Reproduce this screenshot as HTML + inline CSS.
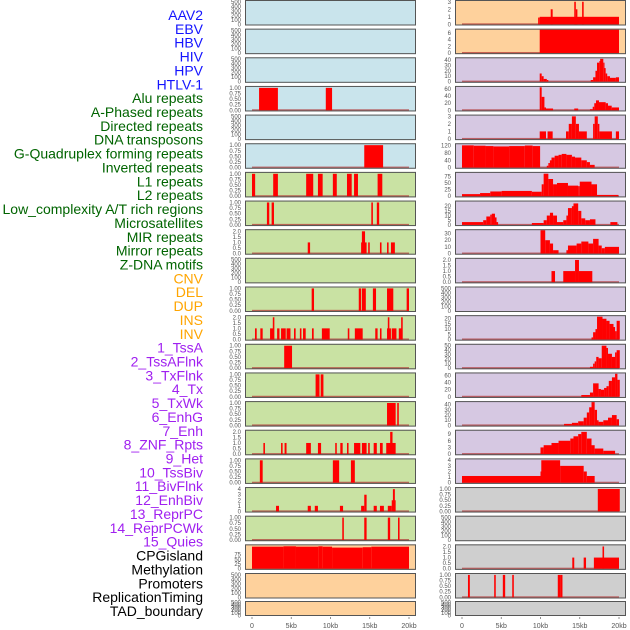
<!DOCTYPE html>
<html><head><meta charset="utf-8">
<style>
html,body{margin:0;padding:0;background:#fff;}
svg{display:block;font-family:"Liberation Sans",sans-serif;}
</style></head>
<body>
<svg id="chart" width="630" height="630" viewBox="0 0 630 630" xmlns="http://www.w3.org/2000/svg"></svg>
<script>
const labels = ["AAV2","EBV","HBV","HIV","HPV","HTLV-1","Alu repeats","A-Phased repeats","Directed repeats","DNA transposons","G-Quadruplex forming repeats","Inverted repeats","L1 repeats","L2 repeats","Low_complexity A/T rich regions","Microsatellites","MIR repeats","Mirror repeats","Z-DNA motifs","CNV","DEL","DUP","INS","INV","1_TssA","2_TssAFlnk","3_TxFlnk","4_Tx","5_TxWk","6_EnhG","7_Enh","8_ZNF_Rpts","9_Het","10_TssBiv","11_BivFlnk","12_EnhBiv","13_ReprPC","14_ReprPCWk","15_Quies","CPGisland","Methylation","Promoters","ReplicationTiming","TAD_boundary"];
const labelColors = ["#1414ff","#1414ff","#1414ff","#1414ff","#1414ff","#1414ff","#006400","#006400","#006400","#006400","#006400","#006400","#006400","#006400","#006400","#006400","#006400","#006400","#006400","#ffa500","#ffa500","#ffa500","#ffa500","#ffa500","#a020f0","#a020f0","#a020f0","#a020f0","#a020f0","#a020f0","#a020f0","#a020f0","#a020f0","#a020f0","#a020f0","#a020f0","#a020f0","#a020f0","#a020f0","#000","#000","#000","#000","#000"];
const xTickKb = [0,5,10,15,20];
const xTickLabels = ["0","5kb","10kb","15kb","20kb"];
const EMPTY_T = [0,100,200,300,400,500];
const T1 = [0,0.25,0.5,0.75,1];
const T2 = [0,0.5,1,1.5,2];
const leftBg = ["#c9e4ec","#c9e4ec","#c9e4ec","#c9e4ec","#c9e4ec","#c9e4ec","#c9e2a3","#c9e2a3","#c9e2a3","#c9e2a3","#c9e2a3","#c9e2a3","#c9e2a3","#c9e2a3","#c9e2a3","#c9e2a3","#c9e2a3","#c9e2a3","#c9e2a3","#fed19c","#fed19c","#fed19c"];
const rightBg = ["#fed19c","#fed19c","#d6c8e2","#d6c8e2","#d6c8e2","#d6c8e2","#d6c8e2","#d6c8e2","#d6c8e2","#d6c8e2","#d6c8e2","#d6c8e2","#d6c8e2","#d6c8e2","#d6c8e2","#d6c8e2","#d6c8e2","#cfcfcf","#cfcfcf","#cfcfcf","#cfcfcf","#cfcfcf"];
const leftYMax = [520,520,520,1.04,520,1.04,1.04,1.04,2.1,520,1.04,2.1,1.04,1.04,1.04,2.1,1.04,4.2,1.04,125,520,520];
const rightYMax = [3.1,7,43,66,3.1,128,88,25,35,2.1,520,22.5,52,66,45,10.5,4.15,1.04,520,2.1,1.04,520];
const leftTicks = [EMPTY_T,EMPTY_T,EMPTY_T,T1,EMPTY_T,T1,T1,T1,T2,EMPTY_T,T1,T2,T1,T1,T1,T2,T1,[0,1,2,3,4],T1,[0,25,50,75],EMPTY_T,EMPTY_T];
const rightTicks = [[0,1,2,3],[0,2,4,6],[0,10,20,30,40],[0,20,40,60],[0,1,2,3],[0,40,80,120],[0,25,50,75],[0,5,10,15,20],[0,10,20,30],T2,EMPTY_T,[0,5,10,15,20],[0,10,20,30,40,50],[0,20,40,60],[0,10,20,30,40],[0,3,6,9],[0,1,2,3,4],T1,EMPTY_T,T2,T1,EMPTY_T];
const segL3 = [[0.9,3.3,1],[9.4,10.2,1]];
const segL5 = [[14.3,16.7,1]];
const segL6 = [[0,0.4,1],[2.7,3.3,1],[6.9,7.8,1],[8.4,9.0,1],[10.3,10.8,1],[12.1,12.7,1],[13.0,13.5,1],[16.0,16.6,1]];
const segL7 = [[1.9,2.2,1],[2.5,2.8,1],[15.2,15.4,1],[15.9,16.2,1]];
const segL8 = [[7.1,7.4,1],[13.9,14.6,1],[14.0,14.4,2],[14.8,15.0,1],[16.3,16.5,1],[17.2,17.4,1],[17.7,18.2,1]];
const segL10 = [[7.6,7.9,1],[13.6,13.9,1],[14.0,14.5,1],[15.4,15.8,1],[17.2,18.0,1],[19.7,20.0,1]];
const segL11 = [[0.38,0.6,1],[1.06,1.36,1],[2.3,2.76,1],[2.65,2.85,2],[3.2,3.5,1],[3.7,4.3,1],[4.4,4.9,1],[5.35,5.56,1],[6.1,6.3,1],[6.5,6.84,1],[7.64,7.86,1],[8.9,9.9,1],[12.2,12.4,1],[13.1,14.1,1],[15.7,16.0,1],[16.3,16.5,1],[17.2,17.7,1],[17.3,17.5,2],[17.8,18.4,1],[18.7,19.1,1],[19.0,19.2,2]];
const segL12 = [[4.1,5.1,1]];
const segL13 = [[8.1,8.6,1],[8.75,9.1,1]];
const segL14 = [[17.2,18.3,1],[18.5,18.7,1]];
const segL15 = [[1.45,1.65,1],[3.7,3.9,1],[4.15,4.4,1],[6.9,7.5,1],[8.4,8.8,1],[10.6,10.8,1],[11.25,11.55,1],[12.1,12.3,1],[13.0,13.8,1],[14.0,14.6,1],[14.8,15.0,1],[15.5,15.9,1],[16.3,16.65,1],[17.1,18.3,1],[17.6,17.9,2]];
const segL16 = [[1.0,1.36,1],[10.3,11.1,1],[12.6,13.1,1]];
const segL17 = [[3.06,3.44,1],[7.1,7.5,1],[8.0,8.4,1],[11.2,11.6,1],[13.9,14.3,1],[14.3,14.6,3],[15.5,15.9,1],[16.3,16.8,1],[17.3,17.8,1],[17.8,18.1,2],[17.95,18.2,4],[18.1,18.3,2]];
const segL18 = [[11.5,11.7,1],[14.3,14.6,1],[17.3,17.6,1],[18.6,18.8,1]];
const segL19 = [[0,4.0,118],[4.0,5.6,120],[5.6,8.45,118],[8.45,9.0,120],[9.0,10.2,118],[10.2,14.1,113],[14.1,15.2,115],[15.2,20.0,118]];
const segR0 = [[9.7,9.9,0.9],[9.9,20.0,1],[11.3,11.55,2],[14.3,14.5,3],[14.5,14.7,2],[15.3,15.5,3]];
const segR1 = [[9.9,20.0,7]];
const segR2 = [[9.9,10.15,15],[10.15,10.4,10],[10.4,10.8,5],[10.8,11.0,3],[16.4,16.7,3],[16.7,17.0,8],[17.0,17.2,20],[17.2,17.5,35],[17.5,17.6,38],[17.6,18.0,42],[18.0,18.1,35],[18.1,18.3,25],[18.3,18.5,15],[18.5,18.85,10],[18.85,19.6,7],[19.6,20.0,8]];
const segR3 = [[9.9,10.15,65],[10.15,10.5,38],[10.5,10.7,8],[10.7,11.6,5],[14.3,14.8,5],[16.3,16.65,3],[16.65,16.85,10],[16.85,17.07,20],[17.07,17.45,28],[17.45,18.3,23],[18.3,18.6,20],[18.6,19.07,13],[19.07,20.0,8]];
const segR4 = [[9.9,10.7,1],[10.9,11.55,1],[13.25,13.6,1],[13.6,14.0,2],[14.0,14.5,3],[14.5,14.9,2],[14.9,15.9,1],[16.7,16.9,2],[16.9,17.3,3],[17.3,17.5,2],[17.5,19.1,1],[19.6,20.0,1]];
const segR5 = [[0,1.5,122],[1.5,3.0,120],[3.0,4.0,118],[4.0,6.0,116],[6.0,8.0,118],[8.0,9.0,121],[9.0,9.95,118],[10.8,11.0,10],[11.0,11.2,25],[11.2,11.4,40],[11.4,11.8,55],[11.8,12.3,65],[12.3,12.7,70],[12.7,13.3,75],[13.3,14.0,70],[14.0,14.4,60],[14.4,15.2,55],[15.2,15.9,40],[15.9,16.3,30],[16.3,16.9,15]];
const segR6 = [[0,2.3,8],[2.3,3.6,12],[3.6,5.05,18],[5.05,8.9,20],[8.9,10.15,17],[10.15,10.4,45],[10.4,11.0,85],[11.0,11.6,65],[11.6,12.1,45],[12.1,13.5,50],[13.5,14.8,40],[14.8,15.0,38],[15.0,16.5,55],[16.5,17.2,45],[17.2,19.9,5]];
const segR7 = [[0,2.7,3],[2.7,3.1,5],[3.1,3.6,9],[3.6,3.8,11],[3.8,4.2,12],[4.2,4.4,8],[4.4,4.6,3],[8.9,10.4,2],[10.4,10.8,5],[10.8,11.2,10],[11.2,11.6,13],[11.6,12.1,10],[12.1,12.9,3],[12.9,13.3,5],[13.3,13.5,10],[13.5,14.0,18],[14.0,14.2,20],[14.2,14.8,23],[14.8,15.2,15],[15.2,15.7,7],[15.7,16.3,5],[16.3,17.0,6],[18.9,19.8,3]];
const segR8 = [[10.0,10.6,35],[10.6,11.2,20],[11.2,11.6,15],[11.6,12.3,5],[13.3,13.5,5],[13.5,14.6,12],[14.6,15.2,15],[15.2,16.1,18],[16.1,16.7,15],[16.7,17.4,22],[17.4,17.8,12],[17.8,18.2,8],[18.2,20.0,10]];
const segR9 = [[11.4,11.85,1],[12.9,14.4,1],[14.4,14.9,2],[14.9,16.6,1]];
const segR11 = [[16.5,16.7,2],[16.7,17.0,7],[17.0,17.2,10],[17.2,17.9,22],[17.9,18.4,20],[18.4,18.8,18],[18.8,19.3,15],[19.3,19.5,12],[19.5,19.7,8],[19.7,20.1,18]];
const segR12 = [[16.3,16.7,3],[16.7,16.9,10],[16.9,17.1,15],[17.1,17.4,25],[17.4,17.8,22],[17.8,18.4,50],[18.4,18.6,45],[18.6,19.1,32],[19.1,19.5,25],[19.5,19.7,35],[19.7,20.1,40]];
const segR13 = [[15.2,16.3,5],[16.3,16.7,12],[16.7,17.4,38],[17.4,17.7,22],[17.7,18.1,20],[18.1,18.4,25],[18.4,18.7,30],[18.7,19.1,45],[19.1,19.5,55],[19.5,19.8,65],[19.8,20.1,48]];
const segR14 = [[13.0,14.0,3],[14.0,14.8,5],[14.8,15.5,8],[15.5,15.9,15],[15.9,16.2,25],[16.2,16.5,35],[16.5,16.9,45],[16.9,17.2,30],[17.2,17.4,10],[17.4,18.0,7],[18.0,18.6,10],[18.6,19.1,15],[19.1,19.7,20],[19.7,20.0,12]];
const segR15 = [[10.0,10.4,3],[10.4,11.4,4],[11.4,12.3,5],[12.3,13.8,6],[13.8,14.2,7],[14.2,14.8,8],[14.8,15.2,9],[15.2,15.9,10],[15.9,16.5,7],[16.5,16.9,4],[16.9,18.0,2.5],[18.0,19.5,1.5]];
const segR16 = [[0,10.0,1.2],[10.0,10.1,2],[10.1,12.5,4],[12.5,15.5,3],[15.5,15.9,2],[15.9,16.9,1.2]];
const segR17 = [[17.3,20.1,1]];
const segR19 = [[14.05,14.3,1],[15.5,15.8,1],[16.8,20.0,1],[17.9,18.1,2]];
const segR20 = [[0.76,1.0,1],[4.1,4.3,1],[5.2,5.5,1],[6.4,6.6,1],[12.2,12.5,1],[12.5,12.8,1]];
const leftSegs = [null,null,null,segL3,null,segL5,segL6,segL7,segL8,null,segL10,segL11,segL12,segL13,segL14,segL15,segL16,segL17,segL18,segL19,null,null];
const rightSegs = [segR0,segR1,segR2,segR3,segR4,segR5,segR6,segR7,segR8,segR9,null,segR11,segR12,segR13,segR14,segR15,segR16,segR17,null,segR19,segR20,null];

const NS = "http://www.w3.org/2000/svg";
const svg = document.getElementById("chart");
function mk(tag, attrs, parent){const e=document.createElementNS(NS,tag);for(const k in attrs)e.setAttribute(k,attrs[k]);(parent||svg).appendChild(e);return e;}

labels.forEach((t,i)=>{
  const e = mk("text",{x:203,y:15+i*13.86+5,"text-anchor":"end","font-size":"14",fill:labelColors[i]});
  
  
  e.textContent = t;
});

function fmt(v, ticks){
  const frac = ticks.some(t=>t%1!==0);
  if(!frac) return String(v);
  const dec = ticks.some(t=>Math.round(t*100)%50!==0) ? 2 : 1;
  return v.toFixed(dec);
}

function panel(col, row, bg, ymax, ticks, segs){
  const bx = col===0 ? 245 : 455;
  const bw = 171;
  const top = row<21 ? row*28.65 : 601;
  const h = row<21 ? 25.5 : 15;
  const x0 = bx+7, kbW = 157/20;
  const xS = kb => x0 + kb*kbW;
  const bottom = top+h;
  const ylo = -0.05*ymax;
  const yS = v => bottom - (v-ylo)/(ymax-ylo)*(h-1);
  const g = mk("g",{});
  
  
  const r = mk("rect",{x:bx,y:top,width:bw,height:h,fill:bg},g);
  
  
  if(segs){
    const base = mk("rect",{x:xS(0),y:yS(0)-1,width:xS(20)-xS(0),height:1.5,fill:"#b03030",opacity:0.7},g);
    
    
    segs.forEach(s=>{
      const y1 = Math.max(top, yS(s[2]));
      const b = mk("rect",{x:xS(s[0]),y:y1,width:Math.max(1.2,xS(s[1])-xS(s[0])),height:yS(0)-y1,fill:"#ff0000"},g);
      
      
    });
  }
  const fr = mk("rect",{x:bx+0.5,y:top+0.5,width:bw-1,height:h-1,fill:"none",stroke:"#555","stroke-width":1},g);
  
  
  ticks.forEach(t=>{
    const yy = yS(t);
    if(yy<top-2) return;
    const tx = mk("text",{x:bx-4,y:yy+2,"text-anchor":"end","font-size":"6",fill:"#555"},g);
    
    
    tx.textContent = fmt(t,ticks);
  });
  return xS;
}
let xSL, xSR;
for(let i=0;i<22;i++){
  xSL = panel(0,i,leftBg[i],leftYMax[i],leftTicks[i],leftSegs[i]);
  xSR = panel(1,i,rightBg[i],rightYMax[i],rightTicks[i],rightSegs[i]);
}
[xSL,xSR].forEach(xS=>{
  xTickKb.forEach((k,j)=>{
    const tl = mk("line",{x1:xS(k),x2:xS(k),y1:617,y2:619,stroke:"#777","stroke-width":0.8});
    
    
    const t = mk("text",{x:xS(k),y:628,"text-anchor":"middle","font-size":"7",fill:"#555"});
    
    
    t.textContent = xTickLabels[j];
  });
});
</script>
</body></html>
